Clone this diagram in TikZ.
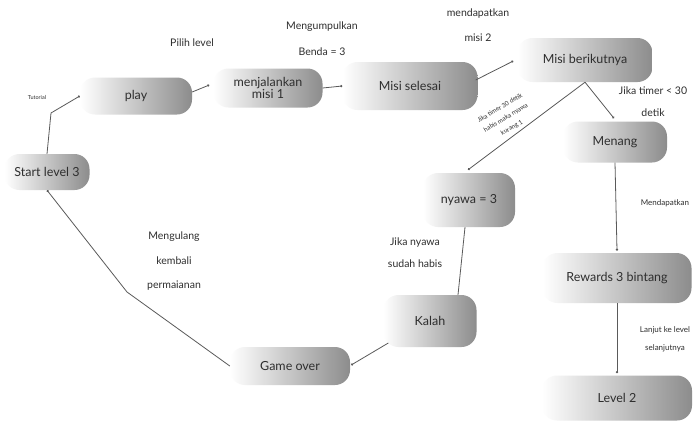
\documentclass[tikz,border=0pt]{standalone}
\usepackage{fontspec}
\setmainfont{Lato}
\usetikzlibrary{arrows.meta,calc}
\definecolor{edgegray}{HTML}{5A5A5A}
\definecolor{txt}{HTML}{2E2E2E}
\tikzset{
  box/.style={rounded corners=15pt, left color=white, right color=black!45,
    draw=none, align=center, text=txt, font=\fontsize{12.5}{14}\selectfont,
    inner sep=0pt},
  lbl/.style={align=center, text=txt, font=\fontsize{10.5}{12}\selectfont, inner sep=0pt},
  slbl/.style={align=center, text=txt, font=\fontsize{8}{10}\selectfont, inner sep=0pt},
  tlbl/.style={align=center, text=txt, font=\fontsize{5.5}{8}\selectfont, inner sep=0pt},
  rlbl/.style={align=center, text=txt, font=\fontsize{6.3}{11.5}\selectfont, inner sep=0pt},
  conn/.style={draw=edgegray, line width=0.8pt, -{Circle[length=2.2pt]}},
}
\begin{document}
\begin{tikzpicture}[x=1pt,y=-1pt]
\useasboundingbox[fill=white] (0,0) rectangle (695,421);
% nodes
\node[box, minimum width=85pt, minimum height=36pt] (start) at (47,172) {Start level 3};
\node[box, minimum width=112pt, minimum height=37pt] (play) at (136,96) {play};
\node[box, minimum width=109pt, minimum height=39pt] (misi1) at (268,88) {menjalankan\\[-2pt]misi 1};
\node[box, minimum width=135pt, minimum height=48pt] (selesai) at (410,86) {Misi selesai};
\node[box, minimum width=135pt, minimum height=44pt] (berikut) at (585,60) {Misi berikutnya};
\node[box, minimum width=104pt, minimum height=41pt] (menang) at (615,142) {Menang};
\node[box, minimum width=92pt, minimum height=54pt] (nyawa) at (469,200) {nyawa = 3};
\node[box, minimum width=149pt, minimum height=50pt] (rewards) at (617,278) {Rewards 3 bintang};
\node[box, minimum width=93pt, minimum height=52pt] (kalah) at (430,321) {Kalah};
\node[box, minimum width=150pt, minimum height=45pt] (level2) at (617,398) {Level 2};
\node[box, minimum width=120pt, minimum height=38pt] (gameover) at (290,366) {Game over};
% bend coordinates
\coordinate (c1) at (51,113);
\coordinate (c2) at (127,292);
% connectors
\draw[conn] (start.north) -- (c1) -- (play.west);
\draw[conn] ($(play.east)+(0,-4)$) -- ($(misi1.west)+(-4,-3)$);
\draw[conn] (misi1.east) -- (selesai.west);
\draw[conn] ($(selesai.east)+(-2,-6)$) -- ($(berikut.west)+(-4,1)$);
\draw[conn] (berikut.south) -- ($(menang.north)+(-1,-3)$);
\draw[conn] (berikut.south) -- ($(nyawa.north)+(-1,-3)$);
\draw[conn] (menang.south) -- ($(rewards.north)+(0,-2)$);
\draw[conn] (rewards.south) -- ($(level2.north)+(0,-2)$);
\draw[draw=edgegray, line width=0.8pt] ($(nyawa.south)+(-4,0)$) -- ($(kalah.north)+(28,0)$);
\draw[conn] ($(kalah.west)+(5,22)$) -- ($(gameover.east)+(1,-1)$);
\draw[conn] (gameover.west) -- (c2) -- (start.south);
% labels
\node[tlbl] (tutorial) at (37,97) {Tutorial};
\node[lbl] (pilih) at (192,43) {Pilih level};
\node[lbl] (mengumpulkan) at (322,27) {Mengumpulkan};
\node[lbl] (benda) at (322,52) {Benda = 3};
\node[lbl] (mendapatkan) at (478,14) {mendapatkan};
\node[lbl] (misi2) at (478,38) {misi 2};
\node[lbl] (timer) at (653,91) {Jika timer < 30};
\node[lbl] (detik) at (653,113) {detik};
\node[rlbl, rotate=31] (timer30) at (506,118) {Jika timer 30 detik\\habis maka nyawa\\kurang 1};
\node[slbl] (mendapatkan2) at (665,203) {Mendapatkan};
\node[slbl] (lanjut) at (665,330) {Lanjut ke level};
\node[slbl] (selanjutnya) at (665,348) {selanjutnya};
\node[lbl] (jika) at (415,243) {Jika nyawa};
\node[lbl] (sudah) at (415,264) {sudah habis};
\node[lbl] (mengulang) at (174,237) {Mengulang};
\node[lbl] (kembali) at (174,261) {kembali};
\node[lbl] (permaianan) at (174,286) {permaianan};
\end{tikzpicture}
\end{document}
